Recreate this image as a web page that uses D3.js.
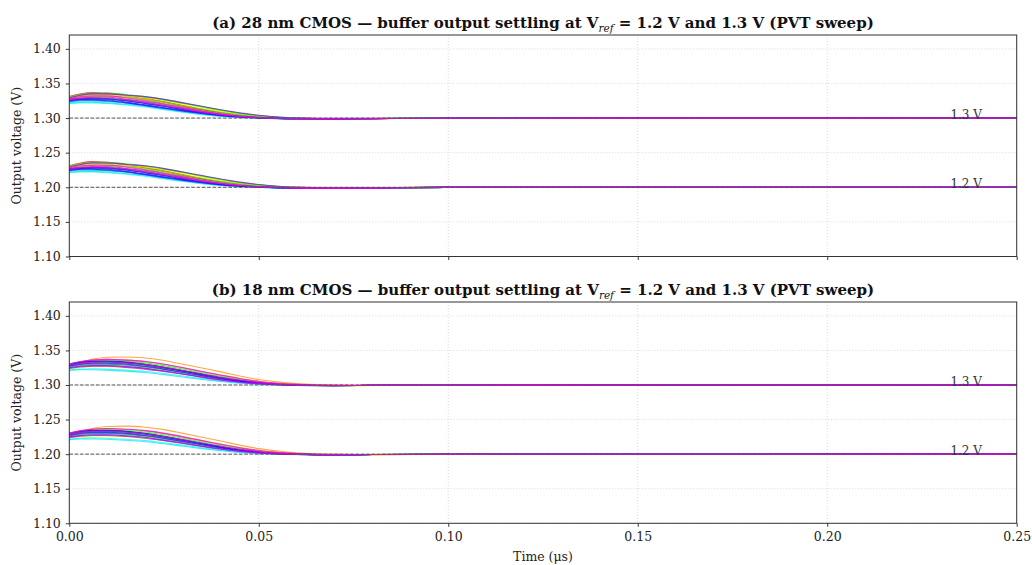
<!DOCTYPE html>
<html>
<head>
<meta charset="utf-8">
<script src="https://cdn.jsdelivr.net/npm/d3@7"></script>
<style>
  html, body { margin: 0; padding: 0; background: #fff; }
  svg { display: block; font-family: "DejaVu Serif", serif; }
</style>
</head>
<body>
<div id="chart"></div>
<script>
// Buffer output settling, two process nodes, PVT sweep.
// Traces are stored as deviation from V_ref in mV at TIME_US.

const TIME_US = [0, 0.003, 0.006, 0.01, 0.015, 0.02, 0.025, 0.03, 0.035, 0.04, 0.045, 0.05, 0.055, 0.06, 0.07, 0.08, 0.10, 0.25];
const VREFS = [1.2, 1.3];
const VREF_LABELS = ["1.2 V", "1.3 V"];
const X_TICKS = [0, 0.05, 0.10, 0.15, 0.20, 0.25];
const Y_TICKS = [1.10, 1.15, 1.20, 1.25, 1.30, 1.35, 1.40];
const PANEL_NAMES = ["(a) 28 nm CMOS", "(b) 18 nm CMOS"];

// panel (a) 28 nm, one row per PVT corner (mV above V_ref)
const DEV_28NM = [
  [31,35,37,36,33,29,24,18,12.5,8,4.5,2,0.5,-0.5,-1.1,-0.8,-0.2,0],
  [29,33,35,35,32,28,23,17,12,7.5,4,1.7,0.3,-0.6,-1.1,-0.8,-0.2,0],
  [27,30,32,32,30,26,21,16,11,7,3.5,1.5,0.2,-0.6,-1.1,-0.7,-0.2,0],
  [30,33,35,35,33,30,26,21,16,11,6.5,3.5,1.2,0,-0.8,-0.6,-0.2,0],
  [25,27,28,28,26,22,18,13,9,5.5,3,1,-0.2,-0.8,-1.1,-0.7,-0.2,0],
  [28,31,33,33,32,29,25,20,15,10,6,3,1,0,-0.8,-0.6,-0.2,0],
  [24,26,27,27,25,22,18,14,10,6,3,1.2,0,-0.7,-1.1,-0.7,-0.2,0],
  [29,32,34,34,33,30,26,21,16,11,6.5,3.3,1.2,0,-0.8,-0.6,-0.2,0],
  [27,30,31,31,30,27,23,18,13,8.5,5,2.4,0.7,-0.3,-1,-0.7,-0.2,0],
  [31,34,36,36,34,31,27,22,16.5,11.5,7,3.6,1.3,0,-0.8,-0.6,-0.2,0],
  [26,28,29,29,27,24,20,15,10.5,6.5,3.5,1.4,0,-0.7,-1.1,-0.7,-0.2,0],
  [23,25,25,24,22,19,15,11,7,4,2,0.5,-0.5,-1,-1.2,-0.7,-0.2,0],
  [25,27,28,28,26,23,19,14.5,10,6,3.2,1.2,0,-0.7,-1.1,-0.7,-0.2,0],
  [21,22,22,21,19,16,12,8.5,5,2.5,0.8,-0.3,-1,-1.3,-1.2,-0.7,-0.2,0],
  [22,23,23,22,20,17,13,9,5.5,2.8,1,-0.2,-1,-1.3,-1.2,-0.7,-0.2,0],
  [24,25,25,24,22,18.5,14.5,10.5,6.5,3.5,1.5,0,-0.8,-1.2,-1.2,-0.7,-0.2,0],
  [26,27,28,27,25,21,17,12.5,8,4.5,2.2,0.6,-0.5,-1,-1.2,-0.7,-0.2,0],
  [25,27,27,26,23,19,15,11,7,4,2,0.5,-0.5,-1,-1.2,-0.8,-0.2,0],
  [27,28,29,28,25,21,17,12,8,4.5,2,0.6,-0.5,-1,-1.2,-0.8,-0.2,0],
  [24,26,26,25,22,18,14,10,6.5,3.5,1.5,0.2,-0.7,-1.1,-1.2,-0.8,-0.2,0],
  [29,33,35,35,33,31,27,22,17,12,7.5,4,1.5,0.3,-0.5,-0.5,-0.2,0],
  [26,28,29,28,26,22,17.5,13,8.5,5,2.5,0.8,-0.4,-1,-1.2,-0.8,-0.2,0],
  [28,31,32,32,29,25,20,15,10,6,3,1,-0.2,-0.9,-1.2,-0.8,-0.2,0],
  [27,29,30,30,27,23,18.5,14,9.5,5.5,2.8,1,-0.3,-0.9,-1.2,-0.8,-0.2,0]
];

// panel (b) 18 nm
const DEV_18NM = [
  [27,30,32,33,32,29,25,20,15,10.5,6.5,3.5,1.3,0.2,-0.7,-0.6,-0.3,0],
  [25,28,30,30,29,26,22,17.5,13,8.5,5,2.5,0.8,-0.2,-0.9,-0.6,-0.3,0],
  [30,34,36,37,36,34,30,25,19.5,14.5,9.5,5.5,2.5,0.8,-0.6,-0.7,-0.3,0],
  [28,33,37,40,40.5,39,35.5,30,24.5,19,13,8,4.5,2,0,-0.8,-0.4,0],
  [26,29,31,32,31,28,24,19.5,15,10,6,3,1,0,-0.9,-0.8,-0.3,0],
  [23,25,26,26,25,23,19.5,15.5,11,7,4,1.8,0.3,-0.5,-1.1,-0.9,-0.4,0],
  [24,27,28,28.5,27.5,25,21,17,12.5,8,4.8,2.2,0.6,-0.4,-1,-0.8,-0.3,0],
  [29,32,34,34,33,30,26,21,16,11,7,3.6,1.3,0.1,-0.8,-0.6,-0.3,0],
  [27,30,32,32.5,31.5,29,25,20,15,10,6,3,1,0,-0.8,-0.6,-0.3,0],
  [30,33,35,35.5,34.5,32,28,23,17.5,12.5,8,4.3,1.7,0.3,-0.7,-0.6,-0.3,0],
  [28,31,33,33.5,32.5,30,26,21,16,11,6.8,3.5,1.2,0,-0.8,-0.6,-0.3,0],
  [25,27,28,28,27,24.5,21,16.5,12,7.8,4.5,2,0.5,-0.4,-1,-0.6,-0.3,0],
  [27,30,31,31.5,30.5,28,24,19.5,14.5,9.8,6,3,1,0,-0.8,-0.6,-0.3,0],
  [22,23,23.5,23,21.5,19.5,16.5,13,9.2,5.8,3.2,1.2,0,-0.6,-1,-0.6,-0.3,0],
  [21,22,22,21.5,20,18,15,11.5,8,5,2.5,0.8,-0.2,-0.7,-1,-0.6,-0.3,0],
  [26,29,30,30,29,26.5,22.5,18,13.5,9,5.3,2.6,0.8,-0.2,-0.9,-0.6,-0.3,0],
  [28,31,33,33,32,29,25,20.5,15.5,10.5,6.3,3.2,1,0,-0.8,-0.6,-0.3,0],
  [29,32,34,34,32.5,29.5,25,20,15,10,6,3,1,0,-0.8,-0.6,-0.3,0],
  [30,33,34.5,34.5,33,30,25.5,20.5,15.5,10.5,6.3,3.2,1.1,0,-0.8,-0.6,-0.3,0],
  [27,30,31.5,31.5,30,27,23,18.5,13.5,9,5.3,2.5,0.7,-0.3,-0.9,-0.6,-0.3,0],
  [25,27,28,28,26.5,24,20,16,11.5,7.5,4.2,1.8,0.3,-0.5,-1,-0.6,-0.3,0],
  [24,26,27,27,25.5,23,19.5,15.5,11,7,4,1.7,0.3,-0.5,-1,-0.6,-0.3,0],
  [30,34,36,37,36,34,30,25,19.5,14,9,5,2.5,1,-0.5,-0.6,-0.3,0],
  [28,31,33,33.5,32,29.5,25.5,21,16,11,6.8,3.5,1.2,0,-0.8,-0.6,-0.3,0]
];

const PANELS = [
  { name: PANEL_NAMES[0], dev: DEV_28NM, top: 35,  bottom: 256.5, xLabels: false },
  { name: PANEL_NAMES[1], dev: DEV_18NM, top: 302, bottom: 523.3, xLabels: true }
];

const W = 1032, H = 565;
const LEFT = 69.3, RIGHT = 1016.7;
const FONT = "DejaVu Serif";

// matplotlib gist_rainbow
const rainbow = d3.scaleLinear()
  .domain([0, 0.03, 0.215, 0.4, 0.586, 0.77, 0.954, 1])
  .range(["#ff0029", "#ff0000", "#ffff00", "#00ff00", "#00ffff", "#0000ff", "#ff00ff", "#ff00bf"])
  .interpolate(d3.interpolateRgb);

const svg = d3.select("#chart").append("svg")
  .attr("width", W).attr("height", H)
  .attr("viewBox", `0 0 ${W} ${H}`);

const x = d3.scaleLinear().domain([0, 0.25]).range([LEFT, RIGHT]);

PANELS.forEach((p, pi) => {
  const y = d3.scaleLinear().domain([1.10, 1.42]).range([p.bottom, p.top]);
  const g = svg.append("g");

  const clipId = "clip" + pi;
  svg.append("clipPath").attr("id", clipId).append("rect")
    .attr("x", LEFT).attr("y", p.top).attr("width", RIGHT - LEFT).attr("height", p.bottom - p.top);

  // grid
  const grid = g.append("g").attr("stroke", "#cfcfcf").attr("stroke-width", 0.8).attr("stroke-dasharray", "1,2");
  grid.selectAll("line.gx").data(X_TICKS).join("line")
    .attr("x1", d => x(d)).attr("x2", d => x(d)).attr("y1", p.top).attr("y2", p.bottom);
  grid.selectAll("line.gy").data(Y_TICKS).join("line")
    .attr("x1", LEFT).attr("x2", RIGHT).attr("y1", d => y(d)).attr("y2", d => y(d));

  // traces
  const line = d3.line().x(d => x(d[0])).y(d => y(d[1])).curve(d3.curveMonotoneX);
  const traces = g.append("g").attr("clip-path", `url(#${clipId})`);
  const n = p.dev.length;
  VREFS.forEach(ref => {
    p.dev.forEach((row, i) => {
      const pts = TIME_US.map((t, k) => [t, ref + row[k] / 1000]);
      traces.append("path")
        .attr("d", line(pts))
        .attr("fill", "none")
        .attr("stroke", rainbow(i / (n - 1)))
        .attr("stroke-width", 1.1)
        .attr("stroke-opacity", 0.75);
    });
  });

  // reference lines + labels
  const refs = g.append("g");
  refs.selectAll("line").data(VREFS).join("line")
    .attr("x1", LEFT).attr("x2", RIGHT)
    .attr("y1", d => y(d)).attr("y2", d => y(d))
    .attr("stroke", "#555").attr("stroke-width", 1).attr("stroke-dasharray", "3.7,1.6");
  refs.selectAll("text").data(VREFS).join("text")
    .attr("x", x(0.2325)).attr("y", d => y(d) + 1)
    .attr("font-family", FONT).attr("font-size", 12).attr("fill", "#333")
    .text((d, i) => VREF_LABELS[i]);

  // axes
  const yAxis = d3.axisLeft(y).tickValues(Y_TICKS).tickFormat(d3.format(".2f")).tickSizeOuter(0).tickSize(3.5).tickPadding(5);
  const ya = g.append("g").attr("transform", `translate(${LEFT},0)`).call(yAxis);
  const xAxis = d3.axisBottom(x).tickValues(X_TICKS).tickFormat(p.xLabels ? d3.format(".2f") : () => "")
    .tickSizeOuter(0).tickSize(3.5).tickPadding(5);
  const xa = g.append("g").attr("transform", `translate(0,${p.bottom})`).call(xAxis);
  [ya, xa].forEach(a => {
    a.select(".domain").remove();
    a.selectAll("line").attr("stroke", "#222").attr("stroke-width", 0.9);
    a.selectAll("text").attr("font-family", FONT).attr("font-size", 12.5).attr("fill", "#222");
  });

  // spines
  g.append("rect")
    .attr("x", LEFT).attr("y", p.top).attr("width", RIGHT - LEFT).attr("height", p.bottom - p.top)
    .attr("fill", "none").attr("stroke", "#333").attr("stroke-width", 1);

  // y label
  g.append("text")
    .attr("transform", `translate(21,${(p.top + p.bottom) / 2}) rotate(-90)`)
    .attr("text-anchor", "middle")
    .attr("font-family", FONT).attr("font-size", 12.5).attr("fill", "#222")
    .text("Output voltage (V)");

  // title with V_ref subscript
  const title = g.append("text")
    .attr("x", (LEFT + RIGHT) / 2).attr("y", p.top - 7)
    .attr("text-anchor", "middle")
    .attr("font-family", FONT).attr("font-size", 15).attr("font-weight", "bold").attr("fill", "#111");
  title.append("tspan").text(p.name + " \u2014 buffer output settling at V");
  title.append("tspan").attr("font-style", "italic").attr("font-weight", "normal")
    .attr("font-size", 10.5).attr("dy", 3.5).text("ref");
  title.append("tspan").attr("dy", -3.5).text(" = 1.2 V and 1.3 V (PVT sweep)");
});

svg.append("text")
  .attr("x", (LEFT + RIGHT) / 2).attr("y", 561)
  .attr("text-anchor", "middle")
  .attr("font-family", FONT).attr("font-size", 12.5).attr("fill", "#222")
  .text("Time (\u03bcs)");
</script>
</body>
</html>
